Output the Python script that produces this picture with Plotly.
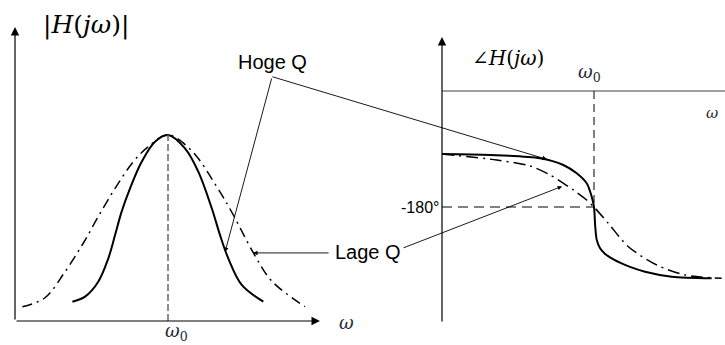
import plotly.graph_objects as go

W, H = 725, 345

# ---- magnitude response |H(jw)|, w normalised to w0 = 1 ----
w_mag_high = [0.375, 0.458, 0.544, 0.610, 0.654, 0.697, 0.752, 0.828, 0.915, 1.000,
              1.111, 1.198, 1.286, 1.340, 1.394, 1.482, 1.623]
mag_high = [0.104, 0.131, 0.211, 0.337, 0.462, 0.588, 0.713, 0.856, 0.964, 1.000,
            0.928, 0.803, 0.606, 0.462, 0.337, 0.194, 0.104]

w_mag_low = [0.048, 0.196, 0.327, 0.446, 0.544, 0.654, 0.773, 0.871, 1.000,
             1.155, 1.318, 1.427, 1.558, 1.678, 1.895]
mag_low = [0.077, 0.125, 0.265, 0.418, 0.561, 0.713, 0.856, 0.937, 1.000,
           0.915, 0.723, 0.570, 0.366, 0.215, 0.077]

# ---- phase response in degrees ----
w_ph_high = [0.000, 0.316, 0.645, 0.798, 0.886, 0.952, 0.985, 1.000, 1.008, 1.018,
             1.040, 1.070, 1.125, 1.237, 1.336, 1.511, 1.774]
ph_high = [-97.8, -99.3, -104.4, -114.8, -127.7, -143.2, -164.0, -180.0, -210.0, -231.0,
           -244.0, -252.0, -261.0, -273.0, -280.4, -288.2, -290.6]

w_ph_low = [0.000, 0.360, 0.579, 0.711, 0.864, 0.952, 1.007, 1.094, 1.226, 1.413, 1.599, 1.840]
ph_low = [-97.8, -107.1, -116.4, -130.3, -153.6, -169.1, -182.0, -205.3, -241.6, -270.0,
          -285.5, -290.6]

W0 = 1.0
PH_REF = -180.0

fig = go.Figure()

# magnitude curves
fig.add_trace(go.Scatter(x=w_mag_low, y=mag_low, mode="lines", xaxis="x", yaxis="y",
                         line=dict(color="black", width=1.5, dash="10px,5px,2px,5px",
                                   shape="spline", smoothing=1.0)))
fig.add_trace(go.Scatter(x=w_mag_high, y=mag_high, mode="lines", xaxis="x", yaxis="y",
                         line=dict(color="black", width=2, shape="spline", smoothing=1.0)))
# centre frequency marker
fig.add_trace(go.Scatter(x=[W0, W0], y=[0, 1.0], mode="lines", xaxis="x", yaxis="y",
                         line=dict(color="#666666", width=1.5, dash="7px,3px")))

# phase curves
fig.add_trace(go.Scatter(x=[0, 1.862], y=[0, 0], mode="lines", xaxis="x2", yaxis="y2",
                         line=dict(color="#808080", width=1.5)))
fig.add_trace(go.Scatter(x=[W0, W0], y=[0, PH_REF], mode="lines", xaxis="x2", yaxis="y2",
                         line=dict(color="black", width=1, dash="8px,5px")))
fig.add_trace(go.Scatter(x=[0, W0], y=[PH_REF, PH_REF], mode="lines", xaxis="x2", yaxis="y2",
                         line=dict(color="black", width=1, dash="10px,6px")))
fig.add_trace(go.Scatter(x=w_ph_low, y=ph_low, mode="lines", xaxis="x2", yaxis="y2",
                         line=dict(color="black", width=1.5, dash="12px,5px,2px,5px",
                                   shape="spline", smoothing=0.8)))
fig.add_trace(go.Scatter(x=w_ph_high, y=ph_high, mode="lines", xaxis="x2", yaxis="y2",
                         line=dict(color="black", width=2, shape="spline", smoothing=0.8)))

ann = []

def arrow(x, y, ax, ay, xref, yref, axref, ayref, width=1.0, size=1.0, head=2):
    ann.append(dict(x=x, y=y, ax=ax, ay=ay, xref=xref, yref=yref, axref=axref, ayref=ayref,
                    text="", showarrow=True, arrowhead=head, arrowsize=size,
                    arrowwidth=width, arrowcolor="black", standoff=0))

# axes with arrow tips
arrow(1.993, 0, 0, 0, "x", "y", "x", "y", width=1.2, size=1.4)
arrow(0, 1.58, 0, 0, "x", "y", "x", "y", width=1.2, size=1.4)
arrow(0, 83.8, 0, -360, "x2", "y2", "x2", "y2", width=1.2, size=1.4)

# pointer lines
arrow(1.373, 0.371, 1.68, 1.312, "x", "y", "x", "y", width=0.9, size=1.0)
arrow(0.69, -106, -276, -83, "x2", "y2", "pixel", "pixel", width=0.9, size=1.0)
arrow(1.556, 0.366, 77, 0, "x", "y", "pixel", "pixel", width=0.9, size=1.0)
arrow(0.79, -148, -160, 62, "x2", "y2", "pixel", "pixel", width=0.9, size=1.0)

def label(text, x, y, size, family="Liberation Sans", color="black", xanchor="center",
          xref="paper", yref="paper", xshift=0):
    ann.append(dict(text=text, x=x, y=y, xref=xref, yref=yref, showarrow=False,
                    xanchor=xanchor, yanchor="middle", xshift=xshift,
                    font=dict(family=family, size=size, color=color)))

math = "DejaVu Serif"
mcol = "#1f2a3a"
label("|<i>H</i>(<i>jω</i>)|", 86 / W, 1 - 25 / H, 25, family=math, color="black")
label("∠<i>H</i>(<i>jω</i>)", 508 / W, 1 - 58 / H, 20, family=math, color="black")
label("Hoge Q", 272 / W, 1 - 62 / H, 20)
label("Lage Q", 368 / W, 1 - 252 / H, 20)
label("<i>ω</i>", 346 / W, 1 - 322 / H, 18, family=math, color=mcol)
label("<i>ω</i><sub>0</sub>", 176 / W, 1 - 332 / H, 18, family=math, color=mcol)
label("<i>ω</i><sub>0</sub>", 589 / W, 1 - 73 / H, 18, family=math, color=mcol)
label("<i>ω</i>", 712 / W, 1 - 113 / H, 15, family=math, color=mcol)
label("-180°", 0, PH_REF, 16, xanchor="right", xref="x2", yref="y2", xshift=-1)

hidden = dict(visible=False, fixedrange=True)
fig.update_layout(
    width=W, height=H,
    margin=dict(l=0, r=0, t=0, b=0),
    paper_bgcolor="white", plot_bgcolor="white",
    showlegend=False,
    xaxis=dict(domain=[15 / W, (15 + 2 * 153) / W], range=[0, 2.0], **hidden),
    yaxis=dict(domain=[1 - 321 / H, 1 - 27 / H], range=[0, 1.5806], **hidden),
    xaxis2=dict(domain=[442 / W, 1.0], range=[0, 283 / 152], anchor="y2", **hidden),
    yaxis2=dict(domain=[1 - 323 / H, 1 - 37 / H], range=[-360, 83.8], anchor="x2", **hidden),
    annotations=ann,
)

fig.write_html("out.html")
